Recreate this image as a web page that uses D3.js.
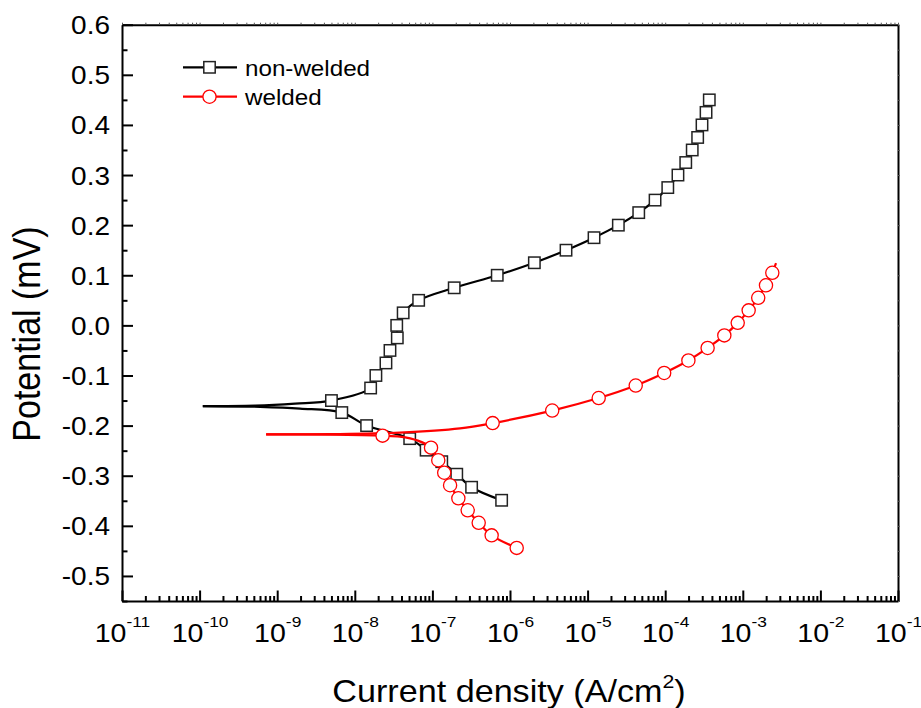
<!DOCTYPE html>
<html>
<head>
<meta charset="utf-8">
<script src="https://cdn.jsdelivr.net/npm/d3@7"></script>
<style>
  body { margin: 0; background: #fff; }
  svg { display: block; font-family: "Liberation Sans", Arial, sans-serif; }
</style>
</head>
<body>
<div id="chart"></div>
<script>
// non-welded: cathodic branch (from corrosion tip outwards) and anodic branch
const nwCathI = [1.1e-10, 6.0e-10, 1.97e-9, 6.8e-9, 1.42e-8, 5.1e-8, 8.3e-8, 1.32e-7, 2.06e-7, 3.2e-7, 7.8e-7];
const nwCathE = [-0.161, -0.1625, -0.166, -0.174, -0.200, -0.226, -0.249, -0.272, -0.297, -0.323, -0.349];
const nwCathMark = [0, 0, 0, 1, 1, 1, 1, 1, 1, 1, 1];

const nwAnodI = [1.1e-10, 5.2e-10, 1.7e-9, 5.0e-9, 1.6e-8, 1.87e-8, 2.52e-8, 2.84e-8, 3.53e-8, 3.47e-8,
  4.2e-8, 6.65e-8, 1.91e-7, 6.85e-7, 2.06e-6, 5.27e-6, 1.21e-5, 2.49e-5, 4.56e-5, 7.4e-5,
  1.08e-4, 1.46e-4, 1.84e-4, 2.23e-4, 2.62e-4, 2.98e-4, 3.36e-4, 3.70e-4];
const nwAnodE = [-0.161, -0.160, -0.156, -0.150, -0.125, -0.100, -0.075, -0.050, -0.025, 0.000,
  0.025, 0.050, 0.075, 0.100, 0.125, 0.150, 0.175, 0.200, 0.225, 0.250,
  0.275, 0.300, 0.325, 0.350, 0.375, 0.400, 0.425, 0.450];
const nwAnodMark = [0, 0, 0, 1, 1, 1, 1, 1, 1, 1, 1, 1, 1, 1, 1, 1, 1, 1, 1, 1, 1, 1, 1, 1, 1, 1, 1, 1];

// welded
const wCathI = [7.2e-10, 4.8e-9, 2.28e-8, 3.8e-8, 6.5e-8, 9.6e-8, 1.19e-7, 1.42e-7, 1.69e-7, 2.16e-7, 2.85e-7, 3.95e-7, 5.8e-7, 1.22e-6];
const wCathE = [-0.2176, -0.218, -0.220, -0.222, -0.230, -0.244, -0.269, -0.294, -0.319, -0.345, -0.369, -0.394, -0.419, -0.444];
const wCathMark = [0, 0, 1, 0, 0, 1, 1, 1, 1, 1, 1, 1, 1, 1];

const wAnodI = [7.2e-10, 4.8e-9, 3.8e-8, 2.27e-7, 5.98e-7, 3.5e-6, 1.39e-5, 4.17e-5, 9.7e-5, 1.99e-4,
  3.52e-4, 5.78e-4, 8.6e-4, 1.19e-3, 1.58e-3, 1.99e-3, 2.40e-3, 2.68e-3];
const wAnodE = [-0.2176, -0.217, -0.214, -0.2056, -0.195, -0.170, -0.145, -0.120, -0.095, -0.070,
  -0.045, -0.020, 0.005, 0.030, 0.055, 0.080, 0.105, 0.124];
const wAnodMark = [0, 0, 0, 0, 1, 1, 1, 1, 1, 1, 1, 1, 1, 1, 1, 1, 1, 0];

const xExponents = [-11, -10, -9, -8, -7, -6, -5, -4, -3, -2, -1];
const yMajor = [-0.5, -0.4, -0.3, -0.2, -0.1, 0.0, 0.1, 0.2, 0.3, 0.4, 0.5, 0.6];
const yMinor = [-0.55, -0.45, -0.35, -0.25, -0.15, -0.05, 0.05, 0.15, 0.25, 0.35, 0.45, 0.55];
const seriesNames = ["non-welded", "welded"];

const width = 921, height = 708;
const plot = { left: 122, right: 898, top: 24.7, bottom: 601 };
const sx = 1.12; // glyphs in the original are a bit wider than Arial

const svg = d3.select("#chart").append("svg")
  .attr("width", width)
  .attr("height", height);

const x = d3.scaleLog().domain([1e-11, 1e-1]).range([plot.left, plot.right]);
const y = d3.scaleLinear().domain([-0.55, 0.6]).range([plot.bottom, plot.top]);

const xMajor = xExponents.map(e => Math.pow(10, e));
const xMinor = [];
xExponents.slice(0, -1).forEach(e => {
  for (let k = 2; k <= 9; k++) xMinor.push(k * Math.pow(10, e));
});

function styleAxis(g) {
  g.select(".domain").attr("stroke", "#000").attr("stroke-width", 2);
  g.selectAll(".tick line").attr("stroke", "#000").attr("stroke-width", 2);
}

// bottom axis
const gx = svg.append("g")
  .attr("transform", `translate(0,${plot.bottom})`)
  .call(d3.axisBottom(x).tickValues(xMajor).tickSize(-10.5).tickSizeOuter(0));
styleAxis(gx);
gx.selectAll(".tick text").each(function(d) {
  const t = d3.select(this);
  t.text(null)
    .attr("y", 0).attr("dy", null)
    .attr("transform", `translate(0,40.7) scale(${sx},1)`)
    .attr("font-size", 25.5)
    .attr("fill", "#000")
    .attr("font-family", "'Liberation Sans', Arial, sans-serif");
  t.append("tspan").text("10");
  t.append("tspan").attr("dy", -15).attr("font-size", 15.5).text(Math.round(Math.log10(d)));
});
svg.append("g")
  .attr("transform", `translate(0,${plot.bottom})`)
  .call(d3.axisBottom(x).tickValues(xMinor).tickSize(-5).tickFormat(""))
  .call(g => g.select(".domain").remove())
  .call(styleAxis);

// left axis
const gy = svg.append("g")
  .attr("transform", `translate(${plot.left},0)`)
  .call(d3.axisLeft(y).tickValues(yMajor).tickSize(-11).tickSizeOuter(0).tickFormat(d => d.toFixed(1)));
styleAxis(gy);
gy.selectAll(".tick text")
  .attr("x", 0).attr("dy", null).attr("y", 9)
  .attr("transform", `translate(-12,0) scale(${sx},1)`)
  .attr("font-size", 25)
  .attr("fill", "#000")
  .attr("font-family", "'Liberation Sans', Arial, sans-serif");
svg.append("g")
  .attr("transform", `translate(${plot.left},0)`)
  .call(d3.axisLeft(y).tickValues(yMinor).tickSize(-5.5).tickFormat(""))
  .call(g => g.select(".domain").remove())
  .call(styleAxis);

// top and right frame with tiny ticks
svg.append("g")
  .attr("transform", `translate(0,${plot.top})`)
  .call(d3.axisTop(x).tickValues(xMajor.concat(xMinor)).tickSize(2).tickSizeOuter(0).tickFormat(""))
  .call(styleAxis)
  .call(g => g.selectAll(".tick line").attr("stroke", "#555").attr("stroke-width", 1));
svg.append("g")
  .attr("transform", `translate(${plot.right},0)`)
  .call(d3.axisRight(y).tickValues(yMajor.concat(yMinor)).tickSize(2).tickSizeOuter(0).tickFormat(""))
  .call(styleAxis)
  .call(g => g.selectAll(".tick line").attr("stroke", "#555").attr("stroke-width", 1));

// axis titles
svg.append("text")
  .attr("transform", `translate(509,701.7) scale(${sx},1)`)
  .attr("text-anchor", "middle")
  .attr("font-size", 30.5)
  .attr("fill", "#000")
  .call(t => {
    t.append("tspan").text("Current density (A/cm");
    t.append("tspan").attr("dy", -14).attr("font-size", 19).text("2");
    t.append("tspan").attr("dy", 14).text(")");
  });

svg.append("text")
  .attr("transform", `translate(40,334) rotate(-90) scale(1,${sx})`)
  .attr("text-anchor", "middle")
  .attr("font-size", 34)
  .attr("fill", "#000")
  .text("Potential (mV)");

// curves
const line = d3.line()
  .x(d => x(d.i))
  .y(d => y(d.e))
  .curve(d3.curveCatmullRom.alpha(0.5));

function zipPts(I, E, M) {
  return I.map((v, k) => ({ i: v, e: E[k], m: M[k] }));
}

const series = [
  { name: seriesNames[0], color: "#000", branches: [zipPts(nwCathI, nwCathE, nwCathMark), zipPts(nwAnodI, nwAnodE, nwAnodMark)], shape: "square" },
  { name: seriesNames[1], color: "#ff0000", branches: [zipPts(wCathI, wCathE, wCathMark), zipPts(wAnodI, wAnodE, wAnodMark)], shape: "circle" }
];

function drawMarker(g, shape, color, cx, cy) {
  if (shape === "square") {
    g.append("rect")
      .attr("x", cx - 5.7).attr("y", cy - 5.7)
      .attr("width", 11.4).attr("height", 11.4)
      .attr("fill", "#fff")
      .attr("stroke", "#222")
      .attr("stroke-width", 1.5);
  } else {
    g.append("circle")
      .attr("cx", cx).attr("cy", cy).attr("r", 6.6)
      .attr("fill", "#fff")
      .attr("stroke", color)
      .attr("stroke-width", 1.3);
  }
}

series.forEach(s => {
  const g = svg.append("g");
  s.branches.forEach(b => {
    g.append("path")
      .attr("d", line(b))
      .attr("fill", "none")
      .attr("stroke", s.color)
      .attr("stroke-width", 2.2);
  });
  s.branches.forEach(b => {
    b.filter(d => d.m).forEach(d => drawMarker(g, s.shape, s.color, x(d.i), y(d.e)));
  });
});

// legend
const legend = svg.append("g");
series.forEach((s, k) => {
  const ly = 67.3 + k * 29.4;
  legend.append("line")
    .attr("x1", 183).attr("x2", 237)
    .attr("y1", ly).attr("y2", ly)
    .attr("stroke", s.color)
    .attr("stroke-width", 2.2);
  drawMarker(legend, s.shape, s.color, 209.5, ly);
  legend.append("text")
    .attr("transform", `translate(245,${ly + 8.7}) scale(1.1,1)`)
    .attr("font-size", 22)
    .attr("fill", "#000")
    .text(s.name);
});
</script>
</body>
</html>
